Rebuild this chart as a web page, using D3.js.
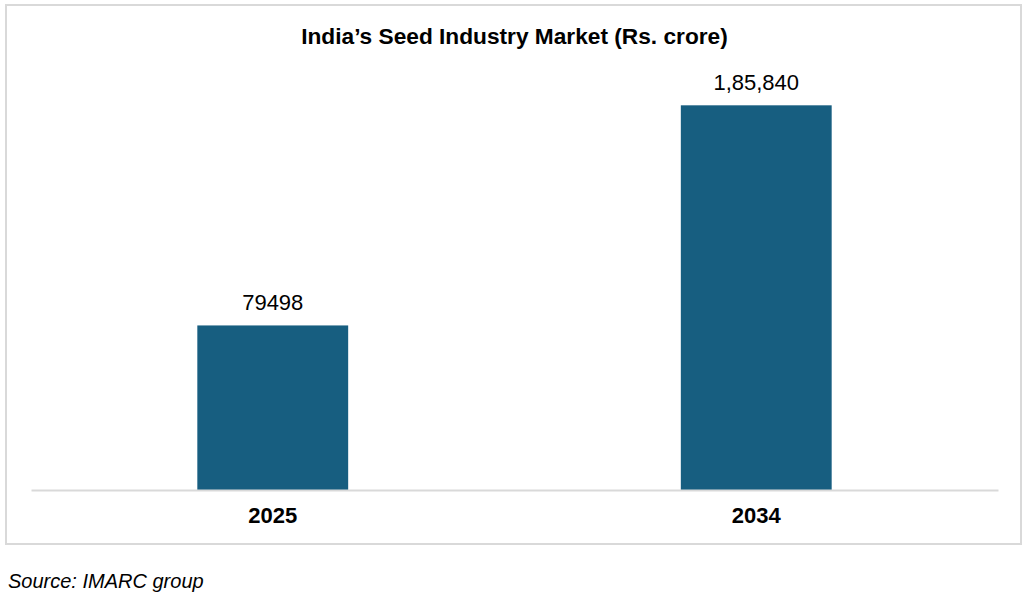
<!DOCTYPE html>
<html>
<head>
<meta charset="utf-8">
<script src="https://cdn.jsdelivr.net/npm/d3@7"></script>
<style>
  body { margin: 0; background: #fff; }
  svg { display: block; font-family: "Liberation Sans", Arial, sans-serif; }
</style>
</head>
<body>
<script>
// data
const years = ['2025', '2034'];
const values = [79498, 185840];
const valueLabels = ['79498', '1,85,840'];
const chartTitle = 'India\u2019s Seed Industry Market (Rs. crore)';
const sourceText = 'Source: IMARC group';

const svgWid = 1025, svgHt = 597;
const svg = d3.select('body').append('svg').attr('width', svgWid).attr('height', svgHt);

// outer frame
svg.append('rect').attr('x', 6).attr('y', 5).attr('width', 1015).attr('height', 539)
  .attr('fill', '#fff').attr('stroke', '#d9d9d9').attr('stroke-width', 2);

// title
svg.append('text').text(chartTitle)
  .attr('x', 514.5).attr('y', 44).attr('text-anchor', 'middle')
  .attr('font-size', 22.7).attr('font-weight', 'bold').attr('fill', '#000');

const left = 31, right = 998, base = 490;

const xScale = d3.scaleBand().domain(years).range([left, right])
  .paddingInner(0.688).paddingOuter(0.344);
const yScale = d3.scaleLinear().domain([0, 200000]).range([base, 76]);

// bars
svg.selectAll('rect.bar').data(years).enter()
  .append('rect').attr('class', 'bar')
  .attr('x', d => xScale(d))
  .attr('y', (d, i) => yScale(values[i]))
  .attr('width', xScale.bandwidth())
  .attr('height', (d, i) => base - yScale(values[i]))
  .attr('fill', '#175e80');

// value labels
svg.selectAll('text.val').data(years).enter()
  .append('text').attr('class', 'val')
  .text((d, i) => valueLabels[i])
  .attr('x', d => xScale(d) + xScale.bandwidth() / 2)
  .attr('y', (d, i) => yScale(values[i]) - 15)
  .attr('text-anchor', 'middle').attr('font-size', 22).attr('fill', '#000');

// x axis
const xAxis = d3.axisBottom(xScale).tickSize(0).tickPadding(17);
const xAxisG = svg.append('g').attr('transform', `translate(0,${base})`).call(xAxis);
xAxisG.select('.domain').attr('stroke', '#d9d9d9').attr('stroke-width', 2);
xAxisG.selectAll('.tick text')
  .attr('font-size', 22).attr('font-weight', 'bold').attr('fill', '#000')
  .attr('font-family', '"Liberation Sans", Arial, sans-serif');

// source note
svg.append('text').text(sourceText)
  .attr('x', 8).attr('y', 588)
  .attr('font-size', 20).attr('font-style', 'italic').attr('fill', '#000');
</script>
</body>
</html>
